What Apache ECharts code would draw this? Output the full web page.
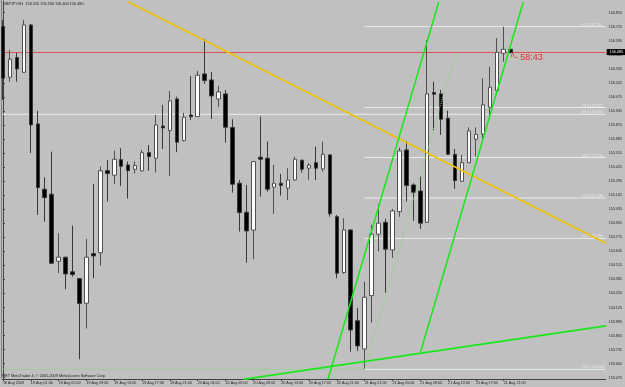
<!DOCTYPE html>
<html><head><meta charset="utf-8">
<script src="https://cdn.jsdelivr.net/npm/echarts@6/dist/echarts.min.js"></script>
<style>html,body{margin:0;padding:0;background:#c0c0c0}#c{width:625px;height:387px}</style>
</head><body><div id="c"></div>
<script>
// ---- data (GBPJPY H1, bars indexed from 18 Aug 2009 21:00) ----
const headerText = 'GBPJPY,H1  156.520 156.530 156.400 156.480';
const footerText = 'MET MetaTrader 4, \u00a9 2001-2009 MetaQuotes Software Corp.';
const opens = [156.725,156.257,156.439,156.303,156.741,155.825,155.220,155.174,154.554,154.591,
154.455,154.393,154.165,154.624,154.633,155.392,155.350,155.494,155.445,155.405,
155.390,155.559,155.507,155.806,155.763,156.056,155.670,155.908,155.892,156.288,
156.232,156.056,156.103,155.791,155.276,155.007,154.841,155.517,155.507,155.239,
155.276,155.230,155.306,155.489,155.415,155.466,155.408,155.538,154.966,154.448,
154.843,154.003,153.741,154.235,154.804,154.914,154.658,155.013,155.584,155.260,
155.204,154.914,156.115,156.103,155.878,155.544,155.294,155.466,155.683,155.732,
155.979,156.133,156.479,156.516];
const closes = [156.248,156.424,156.334,156.741,155.815,155.235,155.142,154.535,154.591,154.436,
154.430,154.161,154.591,154.603,155.390,155.365,155.498,155.433,155.392,155.439,
155.559,155.522,155.815,155.788,156.038,155.655,155.887,155.892,156.276,156.226,
156.084,156.121,155.794,155.267,155.004,154.834,155.476,155.498,155.220,155.276,
155.254,155.306,155.498,155.405,155.443,155.415,155.544,154.992,154.443,154.843,
153.917,153.769,154.220,154.804,154.906,154.665,155.019,155.575,155.254,155.192,
154.906,156.103,156.100,155.868,155.544,155.300,155.466,155.760,155.729,156.001,
156.164,156.488,156.516,156.485];
const lows = [156.047,156.216,156.216,156.297,155.556,154.982,154.920,154.526,154.443,154.294,
154.411,153.646,153.930,154.396,154.513,155.106,155.267,155.251,155.133,155.365,
155.383,155.390,155.374,155.593,155.343,155.563,155.661,155.862,155.890,156.195,
155.871,155.982,155.652,155.189,154.828,154.541,154.572,155.152,155.198,154.992,
155.161,155.121,155.297,155.374,155.306,155.306,155.383,154.966,154.396,154.436,
153.716,153.723,153.553,153.985,154.643,154.263,154.584,154.966,155.106,154.927,
154.853,154.910,155.769,155.723,155.538,155.223,155.288,155.464,155.522,155.692,
155.878,156.103,156.401,156.479];
const highs = [156.788,156.510,156.482,156.788,156.751,155.945,155.331,155.568,154.813,154.596,
154.883,154.399,154.760,155.267,155.430,155.492,155.577,155.600,155.476,155.476,
155.584,155.630,155.908,156.001,156.130,156.077,155.927,156.269,156.316,156.612,
156.306,156.177,156.140,155.868,155.306,155.260,155.482,155.892,155.661,155.445,
155.362,155.415,155.522,155.492,155.461,155.614,155.661,155.544,154.982,154.951,
154.850,154.121,154.364,154.890,155.084,154.945,155.038,155.605,155.667,155.276,
155.337,156.602,156.216,156.140,155.948,155.593,155.538,155.794,155.794,156.248,
156.355,156.618,156.725,156.519];
const xTickIdx = [0,4,8,12,16,20,24,28,32,36,40,44,48,52,56,60,64,68,72];
const xTickLabels = ['18 Aug 2009','19 Aug 01:00','19 Aug 05:00','19 Aug 09:00','19 Aug 13:00',
'19 Aug 17:00','19 Aug 21:00','20 Aug 01:00','20 Aug 05:00','20 Aug 09:00','20 Aug 13:00',
'20 Aug 17:00','20 Aug 21:00','21 Aug 01:00','21 Aug 05:00','21 Aug 09:00','21 Aug 13:00',
'21 Aug 17:00','21 Aug 21:00'];
const yTicks = [153.475,153.605,153.735,153.865,153.995,154.125,154.255,154.385,154.515,154.645,
154.775,154.905,155.035,155.165,155.295,155.425,155.555,155.685,155.815,155.945,
156.075,156.205,156.335,156.465,156.595,156.725,156.855];
const currentPrice = 156.485;
const timerText = '^- 58:43';
const fibStartIdx = 52;
const fibLevels = ['0.0','23.6','38.2','50.0','61.8','100.0'];
const fibPrices = [156.726,155.977,155.514,155.139,154.765,153.552];
const hLineLabel = '38.2';
const hLinePrice = 155.914;
const yellowLine = [[18.05,156.954],[86.71,154.720]];
const greenA = [[46.74,153.463],[62.66,156.954]];
const greenB = [[60.05,153.716],[74.81,156.954]];
const greenRise = [[34.56,153.460],[86.71,153.954]];
const dottedDiag = [[52.00,153.553],[65.05,156.479]];
const dottedLow = 153.553;

// ---- chart ----
const X_MIN = -0.05, X_MAX = 86.66, FIB_LABEL_X = 83.2;
const candles = opens.map((o, i) => [i, o, closes[i], lows[i], highs[i]]);
function seg(data, color, width, type, z) {
  return {type: 'line', data: data, symbol: 'none', silent: true, z: z || 4,
    lineStyle: {color: color, width: width, type: type || 'solid'}, animation: false};
}
const series = [];
series.push(seg([[X_MIN, dottedLow], [X_MAX, dottedLow]], '#78e078', 1, 'dotted', 1));
series.push(seg([[X_MIN, hLinePrice], [X_MAX, hLinePrice]], '#ececec', 1, 'solid', 1));
fibPrices.forEach(p => series.push(seg([[fibStartIdx, p], [X_MAX, p]], '#ececec', 1, 'solid', 1)));
series.push({
  type: 'candlestick', data: candles, encode: {x: 0, y: [1, 2, 3, 4]}, barWidth: 4, z: 3,
  silent: true, animation: false,
  itemStyle: {color: '#ffffff', color0: '#000000', borderColor: '#505050', borderColor0: '#383838', borderWidth: 1},
  markLine: {
    z: 1, silent: true, symbol: 'none', animation: false,
    data: [{yAxis: currentPrice}],
    lineStyle: {color: '#e05050', width: 1, type: 'solid'},
    label: {show: true, position: 'end', distance: 1, formatter: currentPrice.toFixed(3),
      color: '#ffffff', backgroundColor: '#000000', fontSize: 3.7, padding: [1, 3],
      fontFamily: 'Liberation Sans'}
  }
});
series.push(seg(yellowLine, '#efc200', 1.6));
series.push(seg(greenA, '#18e818', 1.5));
series.push(seg(greenB, '#18e818', 1.5));
series.push(seg(greenRise, '#18e818', 1.8));
series.push(seg(dottedDiag, '#78e078', 1, 'dotted'));
const labelPts = fibPrices.map((p, k) => ({value: [FIB_LABEL_X, p], name: fibLevels[k] + ' ' + p.toFixed(3)}));
labelPts.push({value: [FIB_LABEL_X, hLinePrice], name: hLineLabel + ' ' + hLinePrice.toFixed(3)});
series.push({
  type: 'scatter', data: labelPts, symbolSize: 0, silent: true, z: 2, animation: false,
  label: {show: true, position: 'top', align: 'left', verticalAlign: 'bottom', distance: 0,
    formatter: p => p.name, color: '#f4f4f4', fontSize: 3.7, fontFamily: 'Liberation Sans'}
});

const chart = echarts.init(document.getElementById('c'), null, {renderer: 'canvas'});
chart.setOption({
  backgroundColor: '#c0c0c0',
  animation: false,
  grid: {left: 1, right: 17, top: 1, bottom: 8, containLabel: false},
  xAxis: {
    type: 'value', min: X_MIN, max: X_MAX,
    axisLine: {show: true, lineStyle: {color: '#404040', width: 1}},
    splitLine: {show: false},
    axisTick: {show: true, customValues: xTickIdx, length: 2, lineStyle: {color: '#404040'}},
    axisLabel: {customValues: xTickIdx, formatter: v => xTickLabels[xTickIdx.indexOf(Math.round(v))] || '',
      align: 'left', fontSize: 3.7, color: '#202020', margin: 1.5, fontFamily: 'Liberation Sans'}
  },
  yAxis: {
    type: 'value', position: 'right', min: 153.463, max: 156.963,
    axisLine: {show: true, lineStyle: {color: '#404040', width: 1}},
    splitLine: {show: false},
    axisTick: {show: true, customValues: yTicks, length: 2, lineStyle: {color: '#404040'}},
    axisLabel: {customValues: yTicks, formatter: v => v.toFixed(3), fontSize: 3.7,
      color: '#202020', margin: 3, fontFamily: 'Liberation Sans'}
  },
  graphic: [
    {type: 'line', shape: {x1: 1.5, y1: 0, x2: 1.5, y2: 379}, style: {stroke: '#808080', lineWidth: 1}, z: 0},
    {type: 'text', left: 3, top: 2, style: {text: headerText, fill: '#202020', font: '3.8px "Liberation Sans"'}},
    {type: 'text', left: 2, top: 373.5, style: {text: footerText, fill: '#202020', font: '3.8px "Liberation Sans"'}},
    {type: 'text', left: 510.5, top: 53.5, style: {text: timerText, fill: '#e03030', font: '9px "Liberation Sans"'}}
  ],
  series: series
});
</script></body></html>
